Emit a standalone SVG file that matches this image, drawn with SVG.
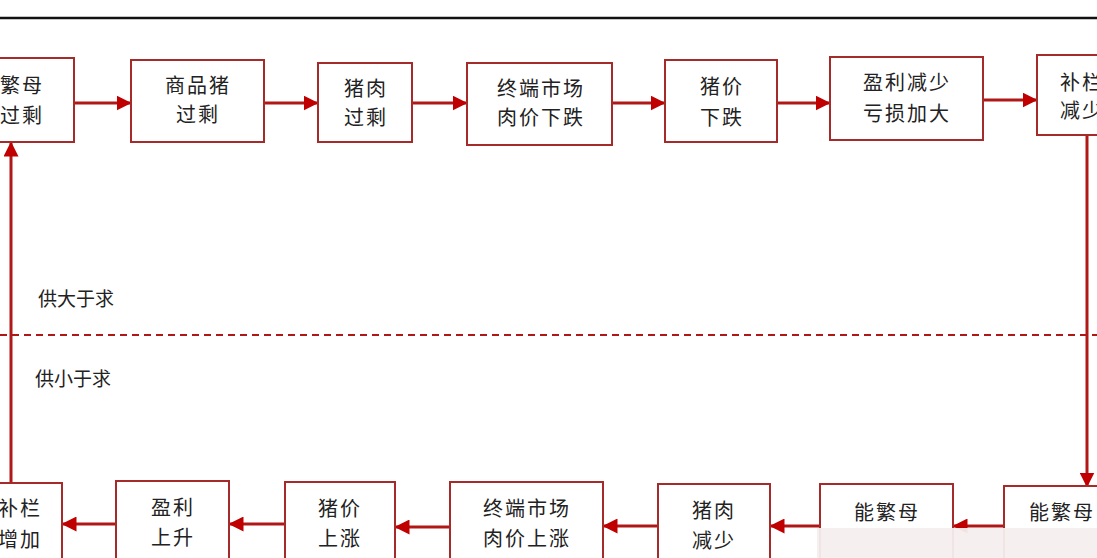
<svg xmlns="http://www.w3.org/2000/svg" width="1097" height="558" viewBox="0 0 1097 558">
<style>
.b{fill:#fff;stroke:#a52a2a;stroke-width:2}
.t{font-family:"Noto Sans CJK SC",sans-serif;font-size:20px;fill:#222;text-anchor:middle;letter-spacing:2px}
.l{font-family:"Noto Sans CJK SC",sans-serif;font-size:19px;fill:#222}
.c{stroke:#b01818;stroke-width:3;fill:none}
</style>
<defs><marker id="a" viewBox="0 0 10 10" refX="9" refY="5" markerWidth="5" markerHeight="5" orient="auto" markerUnits="strokeWidth"><path d="M0,0L10,5L0,10z" fill="#c00000"/></marker></defs>
<rect width="1097" height="558" fill="#fff"/>
<line x1="0" y1="18" x2="1097" y2="18" stroke="#111" stroke-width="2.5"/>
<line x1="0" y1="335" x2="1097" y2="335" stroke="#b01818" stroke-width="2" stroke-dasharray="7,5"/>
<text class="l" x="38" y="306">供大于求</text>
<text class="l" x="35" y="386">供小于求</text>
<g id="connectors">
<path class="c" d="M74,103H130" marker-end="url(#a)"/>
<path class="c" d="M264,103H317" marker-end="url(#a)"/>
<path class="c" d="M412,103H466" marker-end="url(#a)"/>
<path class="c" d="M612,103H664" marker-end="url(#a)"/>
<path class="c" d="M777,103H829" marker-end="url(#a)"/>
<path class="c" d="M983,100H1036" marker-end="url(#a)"/>
<path class="c" d="M1087,135V486" marker-end="url(#a)"/>
<path class="c" d="M1004,526H954" marker-end="url(#a)"/>
<path class="c" d="M820,526H771" marker-end="url(#a)"/>
<path class="c" d="M658,526H604" marker-end="url(#a)"/>
<path class="c" d="M450,527H396" marker-end="url(#a)"/>
<path class="c" d="M285,524H230" marker-end="url(#a)"/>
<path class="c" d="M116,524H63" marker-end="url(#a)"/>
<path class="c" d="M11,483V143" marker-end="url(#a)"/>
</g>
<g id="n1"><rect class="b" x="-5" y="58" width="79" height="84"/><text class="t" x="22" y="93">繁母</text><text class="t" x="22" y="123">过剩</text></g>
<g id="n2"><rect class="b" x="131" y="60" width="133" height="82"/><text class="t" x="198" y="93">商品猪</text><text class="t" x="198" y="122">过剩</text></g>
<g id="n3"><rect class="b" x="318" y="63" width="94" height="79"/><text class="t" x="366" y="96">猪肉</text><text class="t" x="366" y="125">过剩</text></g>
<g id="n4"><rect class="b" x="467" y="63" width="145" height="82"/><text class="t" x="541" y="96">终端市场</text><text class="t" x="541" y="125">肉价下跌</text></g>
<g id="n5"><rect class="b" x="665" y="60" width="112" height="82"/><text class="t" x="722" y="94">猪价</text><text class="t" x="722" y="125">下跌</text></g>
<g id="n6"><rect class="b" x="830" y="57" width="153" height="83"/><text class="t" x="907" y="90">盈利减少</text><text class="t" x="907" y="121">亏损加大</text></g>
<g id="n7"><rect class="b" x="1037" y="55" width="70" height="80"/><text class="t" x="1082" y="90">补栏</text><text class="t" x="1082" y="118">减少</text></g>
<g id="n8"><rect class="b" x="1004" y="486" width="100" height="80"/><text class="t" x="1062" y="520">能繁母</text></g>
<g id="n9"><rect class="b" x="820" y="484" width="133" height="80"/><text class="t" x="887" y="520">能繁母</text></g>
<g id="n10"><rect class="b" x="658" y="484" width="112" height="80"/><text class="t" x="714" y="518">猪肉</text><text class="t" x="714" y="548">减少</text></g>
<g id="n11"><rect class="b" x="450" y="482" width="153" height="80"/><text class="t" x="527" y="516">终端市场</text><text class="t" x="527" y="546">肉价上涨</text></g>
<g id="n12"><rect class="b" x="285" y="482" width="110" height="80"/><text class="t" x="340" y="516">猪价</text><text class="t" x="340" y="546">上涨</text></g>
<g id="n13"><rect class="b" x="116" y="481" width="113" height="80"/><text class="t" x="173" y="515">盈利</text><text class="t" x="173" y="545">上升</text></g>
<g id="n14"><rect class="b" x="-5" y="483" width="67" height="80"/><text class="t" x="20" y="516">补栏</text><text class="t" x="20" y="547">增加</text></g>
<rect x="817" y="528" width="280" height="30" fill="#f4eeee" opacity="0.95"/>
</svg>
